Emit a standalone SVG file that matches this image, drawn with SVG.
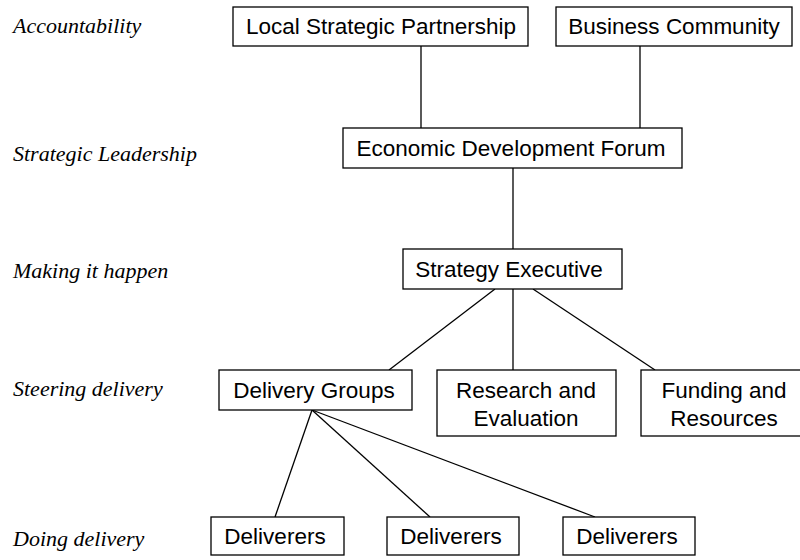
<svg xmlns="http://www.w3.org/2000/svg" width="800" height="560" viewBox="0 0 800 560">
  <style>
    .box { fill: #ffffff; stroke: #000000; stroke-width: 1.3; }
    .lbl { font-family: "Liberation Sans", Arial, sans-serif; font-size: 22.5px; fill: #000000; text-anchor: middle; }
    .tier { font-family: "Liberation Serif", "Times New Roman", serif; font-style: italic; font-size: 22px; fill: #000000; }
    .conn line { stroke: #000000; stroke-width: 1.3; }
  </style>
  <rect width="800" height="560" fill="#ffffff"/>

  <!-- tier captions -->
  <g id="tiers">
    <text class="tier" x="13" y="33">Accountability</text>
    <text class="tier" x="13" y="161">Strategic Leadership</text>
    <text class="tier" x="13" y="278">Making it happen</text>
    <text class="tier" x="13" y="396">Steering delivery</text>
    <text class="tier" x="13" y="546">Doing delivery</text>
  </g>

  <!-- connectors -->
  <g id="connectors" class="conn">
    <line x1="421" y1="46" x2="421" y2="128"/>
    <line x1="640" y1="46" x2="640" y2="128"/>
    <line x1="513" y1="168" x2="513" y2="249"/>
    <line x1="495" y1="289" x2="389" y2="370"/>
    <line x1="513" y1="289" x2="513" y2="370"/>
    <line x1="533" y1="289" x2="655" y2="370"/>
    <line x1="312" y1="410" x2="275" y2="517"/>
    <line x1="312" y1="410" x2="430" y2="517"/>
    <line x1="312" y1="410" x2="595" y2="517"/>
  </g>

  <g id="lsp">
    <rect class="box" x="233" y="7" width="295" height="39"/>
    <text class="lbl" x="381" y="34">Local Strategic Partnership</text>
  </g>
  <g id="business">
    <rect class="box" x="556" y="7" width="236" height="39"/>
    <text class="lbl" x="674" y="34">Business Community</text>
  </g>
  <g id="edf">
    <rect class="box" x="343" y="128" width="339" height="40"/>
    <text class="lbl" x="511" y="156">Economic Development Forum</text>
  </g>
  <g id="executive">
    <rect class="box" x="403" y="249" width="219" height="40"/>
    <text class="lbl" x="509" y="277">Strategy Executive</text>
  </g>
  <g id="delivery-groups">
    <rect class="box" x="219" y="370" width="193" height="40"/>
    <text class="lbl" x="314" y="398">Delivery Groups</text>
  </g>
  <g id="research">
    <rect class="box" x="437" y="370" width="179" height="66"/>
    <text class="lbl" x="526" y="398">Research and</text>
    <text class="lbl" x="526" y="426">Evaluation</text>
  </g>
  <g id="funding">
    <rect class="box" x="641" y="370" width="166" height="66"/>
    <text class="lbl" x="724" y="398">Funding and</text>
    <text class="lbl" x="724" y="426">Resources</text>
  </g>
  <g id="deliverers-1">
    <rect class="box" x="211" y="517" width="133" height="38"/>
    <text class="lbl" x="275" y="544">Deliverers</text>
  </g>
  <g id="deliverers-2">
    <rect class="box" x="387" y="517" width="132" height="38"/>
    <text class="lbl" x="451" y="544">Deliverers</text>
  </g>
  <g id="deliverers-3">
    <rect class="box" x="563" y="517" width="132" height="38"/>
    <text class="lbl" x="627" y="544">Deliverers</text>
  </g>
</svg>
